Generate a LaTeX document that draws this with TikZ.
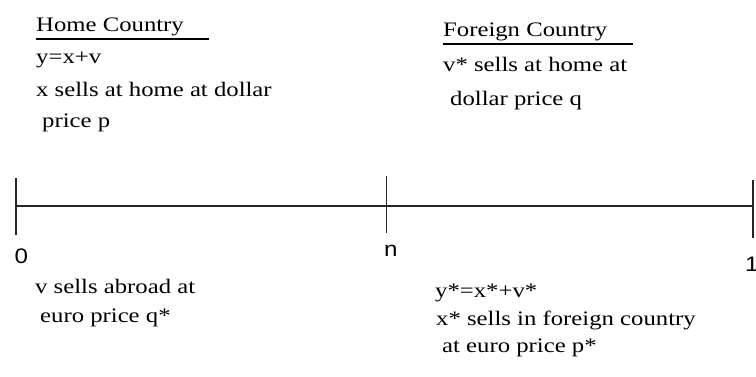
\documentclass[tikz,border=0pt]{standalone}
\usepackage{fontspec}
\setmainfont{Liberation Serif}[FakeStretch=1.2]
\newfontfamily\numfont{Liberation Sans}[FakeStretch=1.15]
\begin{document}
\begin{tikzpicture}[x=1pt,y=-1pt,
  txt/.style={anchor=base west,inner sep=0pt,font=\fontsize{20.6pt}{24pt}\selectfont},
  num/.style={anchor=base west,inner sep=0pt,font=\numfont\fontsize{21pt}{24pt}\selectfont},
  axis/.style={line width=1.3pt,draw=black!85},
  uline/.style={line width=2pt}]
\useasboundingbox (0,0) rectangle (756,377);
% Home country
\node[txt] (ht) at (36,31.5) {Home Country};
\node[txt] (h1) at (36,64) {y=x+v};
\node[txt] (h2) at (36,97) {x sells at home at dollar};
\node[txt] (h3) at (42,128) {price p};
\draw[uline] (36,39) -- (209,39);
% Foreign country
\node[txt] (ft) at (443,37) {Foreign Country};
\node[txt] (f1) at (443,72) {v* sells at home at};
\node[txt] (f2) at (450,106) {dollar price q};
\draw[uline] (443,44.5) -- (633,44.5);
% axis
\coordinate (z0) at (16,206);
\coordinate (zn) at (386.5,206);
\coordinate (z1) at (753,206);
\draw[axis] (z0) -- (z1);
\draw[axis] (16,178) -- (16,235);
\draw[axis] (386.5,176) -- (386.5,233);
\draw[axis] (753,180) -- (753,238);
\node[num] (l0) at (14.5,263) {0};
\node[num] (ln) at (384,257) {n};
\node[num] (l1) at (745,272) {1};
% bottom left
\node[txt] (b1) at (35,294) {v sells abroad at};
\node[txt] (b2) at (40,323) {euro price q*};
% bottom right
\node[txt] (r1) at (435,298) {y*=x*+v*};
\node[txt] (r2) at (436,325) {x* sells in foreign country};
\node[txt] (r3) at (442,352) {at euro price p*};
\end{tikzpicture}
\end{document}
